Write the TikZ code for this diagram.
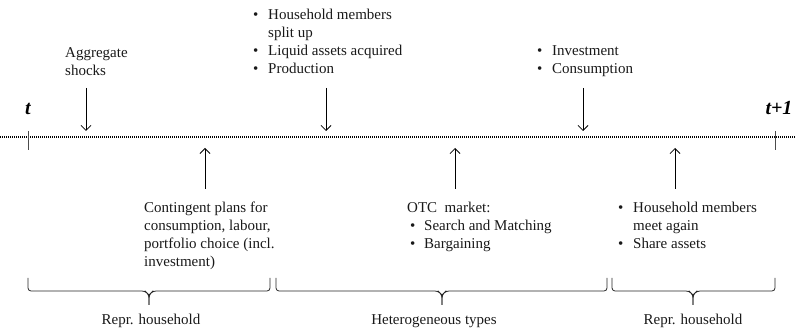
\documentclass[tikz,border=0pt]{standalone}
\usepackage{fontspec}
\setmainfont{Liberation Serif}
\usetikzlibrary{arrows.meta}
\newcommand\bitem[1]{\makebox[15pt][l]{\textbullet}#1}
\newcommand\bcont[1]{\hspace*{15pt}#1}
\begin{document}
\begin{tikzpicture}[x=1pt,y=-1pt,
  lbl/.style={anchor=north west, inner sep=0pt, align=left, text=black!90, font=\fontsize{15}{18}\selectfont},
  ctr/.style={anchor=base, inner sep=0pt, text=black!90, font=\fontsize{15}{18}\selectfont},
  tlab/.style={anchor=base, inner sep=0pt, font=\fontsize{20}{24}\selectfont\bfseries\itshape},
  arr/.style={-{Straight Barb[length=5pt,width=10pt]}, line width=0.75pt},
  tickline/.style={line width=1pt, black!70},
  brc/.style={line width=0.8pt, rounded corners=3pt, black!85},
  timeline/.style={line width=1.2pt, dash pattern=on 1pt off 1pt}]
\useasboundingbox (0,0) rectangle (795,328);

% timeline
\coordinate (L) at (0,137);
\coordinate (R) at (795,137);
\draw[timeline] (L) -- (R);

% ticks
\coordinate (k0a) at (28,131); \coordinate (k0b) at (28,150);
\coordinate (k1a) at (775,131); \coordinate (k1b) at (775,150);
\draw[tickline] (k0a) -- (k0b);
\draw[tickline] (k1a) -- (k1b);
\node[tlab] (t0) at (28,115) {t};
\node[tlab] (t1) at (779,115) {t+1};

% top texts
\node[lbl] (agg) at (65,47) {Aggregate\\shocks};
\node[lbl] (hh) at (253,9) {\bitem{Household members}\\\bcont{split up}\\\bitem{Liquid assets acquired}\\\bitem{Production}};
\node[lbl] (inv) at (537,45) {\bitem{Investment}\\\bitem{Consumption}};

% down arrows
\coordinate (d1s) at (86,88); \coordinate (d1e) at (86,131);
\coordinate (d2s) at (326,88); \coordinate (d2e) at (326,131);
\coordinate (d3s) at (583,88); \coordinate (d3e) at (583,131);
\draw[arr] (d1s) -- (d1e);
\draw[arr] (d2s) -- (d2e);
\draw[arr] (d3s) -- (d3e);

% up arrows
\coordinate (u1s) at (205,189); \coordinate (u1e) at (205,148);
\coordinate (u2s) at (455,189); \coordinate (u2e) at (455,148);
\coordinate (u3s) at (675,189); \coordinate (u3e) at (675,148);
\draw[arr] (u1s) -- (u1e);
\draw[arr] (u2s) -- (u2e);
\draw[arr] (u3s) -- (u3e);

% bottom texts
\node[lbl] (plans) at (144,201.5) {Contingent plans for\\consumption, labour,\\portfolio choice (incl.\\investment)};
\node[lbl] (otc) at (407,202) {OTC\ \ market:\\\hspace*{3pt}\makebox[14pt][l]{\textbullet}Search and Matching\\\hspace*{3pt}\makebox[14pt][l]{\textbullet}Bargaining};
\node[lbl] (meet) at (618,202) {\bitem{Household members}\\\bcont{meet again}\\\bitem{Share assets}};

% braces
\draw[brc] (28,278) -- (28,291) -- (145,291) -- (149,295) -- (149,305);
\draw[brc] (149,305) -- (149,295) -- (153,291) -- (270,291) -- (270,278);
\draw[brc] (276,278) -- (276,291) -- (438,291) -- (442,295) -- (442,305);
\draw[brc] (442,305) -- (442,295) -- (446,291) -- (607,291) -- (607,278);
\draw[brc] (612,278) -- (612,291) -- (689,291) -- (693,295) -- (693,305);
\draw[brc] (693,305) -- (693,295) -- (697,291) -- (775,291) -- (775,278);

% brace labels
\node[ctr] (b1) at (151,325) {Repr. household};
\node[ctr] (b2) at (434,325) {Heterogeneous types};
\node[ctr] (b3) at (693,325) {Repr. household};
\end{tikzpicture}
\end{document}
